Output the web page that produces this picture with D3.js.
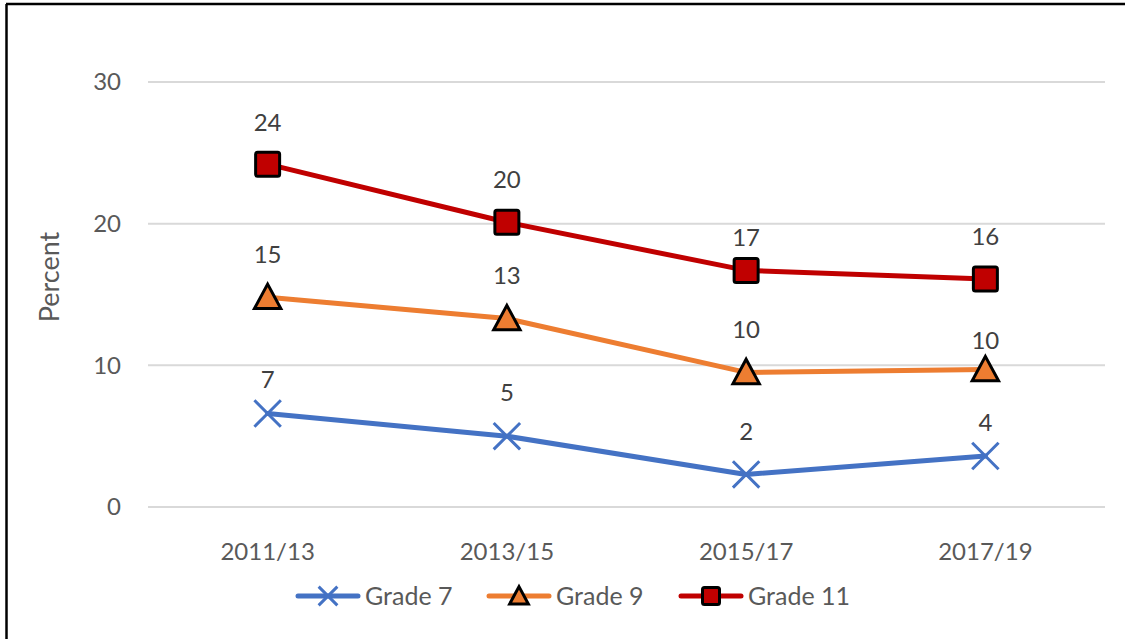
<!DOCTYPE html>
<html>
<head>
<meta charset="utf-8">
<script src="https://cdn.jsdelivr.net/npm/d3@7"></script>
<style>
  html, body { margin: 0; padding: 0; background: #fff; }
  svg { display: block; font-family: Lato, "Open Sans", sans-serif; }
</style>
</head>
<body>
<svg id="chart" width="1125" height="639"></svg>
<script>
(function () {
  "use strict";

  const periods = ["2011/13", "2013/15", "2015/17", "2017/19"];
  const grade7 = [6.6, 5.0, 2.3, 3.6];
  const grade9 = [14.8, 13.3, 9.5, 9.7];
  const grade11 = [24.2, 20.1, 16.7, 16.1];
  const yTicks = [0, 10, 20, 30];

  // how far above its marker each data label sits (px, label centre)
  const labelLift7 = [34, 44, 43, 33];
  const labelLift9 = [43, 43, 43, 29];
  const labelLift11 = [42, 43, 33, 42];

  const series = [
    { name: "Grade 7", values: grade7, lift: labelLift7, color: "#4472C4", marker: "x" },
    { name: "Grade 9", values: grade9, lift: labelLift9, color: "#ED7D31", marker: "triangle" },
    { name: "Grade 11", values: grade11, lift: labelLift11, color: "#C00000", marker: "square" },
  ];

  const svg = d3.select("#chart");

  // outer frame -- only top and left edges show in the reference
  svg.append("line").attr("x1", 6).attr("x2", 1125).attr("y1", 4).attr("y2", 4)
    .attr("stroke", "#000").attr("stroke-width", 2.5);
  svg.append("line").attr("x1", 6.5).attr("x2", 6.5).attr("y1", 4).attr("y2", 639)
    .attr("stroke", "#000").attr("stroke-width", 2.5);

  const plot = { left: 148, right: 1105, top: 82, bottom: 507 };

  const x = d3.scalePoint().domain(periods).range([plot.left, plot.right]).padding(0.5);
  const y = d3.scaleLinear().domain([0, 30]).range([plot.bottom, plot.top]);

  svg.append("g")
    .selectAll("line")
    .data(yTicks)
    .join("line")
    .attr("x1", plot.left)
    .attr("x2", plot.right)
    .attr("y1", (d) => y(d))
    .attr("y2", (d) => y(d))
    .attr("stroke", "#d9d9d9")
    .attr("stroke-width", 2);

  svg.append("g")
    .selectAll("text")
    .data(yTicks)
    .join("text")
    .attr("x", 121)
    .attr("y", (d) => y(d))
    .attr("dy", "0.35em")
    .attr("text-anchor", "end")
    .attr("font-size", 24)
    .attr("fill", "#595959")
    .text((d) => d);

  svg.append("g")
    .selectAll("text")
    .data(periods)
    .join("text")
    .attr("x", (d) => x(d))
    .attr("y", 552)
    .attr("dy", "0.35em")
    .attr("text-anchor", "middle")
    .attr("font-size", 24)
    .attr("fill", "#595959")
    .text((d) => d);

  svg.append("text")
    .attr("transform", "translate(50,277) rotate(-90)")
    .attr("dy", "0.35em")
    .attr("text-anchor", "middle")
    .attr("font-size", 27)
    .attr("fill", "#595959")
    .text("Percent");

  function drawMarker(g, s, size) {
    if (s.marker === "x") {
      const h = size * 0.55;
      g.append("path")
        .attr("d", `M${-h},${-h}L${h},${h}M${-h},${h}L${h},${-h}`)
        .attr("stroke", s.color).attr("stroke-width", 3).attr("fill", "none");
    } else if (s.marker === "triangle") {
      const h = size * 0.55;
      g.append("path")
        .attr("d", `M0,${-h}L${h},${h * 0.85}L${-h},${h * 0.85}Z`)
        .attr("fill", s.color).attr("stroke", "#000").attr("stroke-width", 3);
    } else {
      const h = size * 0.5;
      g.append("rect")
        .attr("x", -h).attr("y", -h).attr("width", 2 * h).attr("height", 2 * h)
        .attr("rx", 2)
        .attr("fill", s.color).attr("stroke", "#000").attr("stroke-width", 3);
    }
  }

  const line = d3.line()
    .x((d, i) => x(periods[i]))
    .y((d) => y(d));

  series.forEach((s) => {
    const g = svg.append("g");
    g.append("path")
      .datum(s.values)
      .attr("d", line)
      .attr("fill", "none")
      .attr("stroke", s.color)
      .attr("stroke-width", 5)
      .attr("stroke-linejoin", "round")
      .attr("stroke-linecap", "round");

    s.values.forEach((v, i) => {
      const m = g.append("g").attr("transform", `translate(${x(periods[i])},${y(v)})`);
      drawMarker(m, s, 24);
      g.append("text")
        .attr("x", x(periods[i]))
        .attr("y", y(v) - s.lift[i])
        .attr("dy", "0.35em")
        .attr("text-anchor", "middle")
        .attr("font-size", 24)
        .attr("fill", "#404040")
        .text(Math.round(v));
    });
  });

  // legend
  const legendX = [298, 489, 681];
  series.forEach((s, i) => {
    const lx = legendX[i];
    const ly = 596;
    const lg = svg.append("g");
    lg.append("line")
      .attr("x1", lx).attr("x2", lx + 60)
      .attr("y1", ly).attr("y2", ly)
      .attr("stroke", s.color).attr("stroke-width", 5).attr("stroke-linecap", "round");
    const m = lg.append("g").attr("transform", `translate(${lx + 30},${ly})`);
    drawMarker(m, s, 17);
    lg.append("text")
      .attr("x", lx + 67)
      .attr("y", ly)
      .attr("dy", "0.35em")
      .attr("font-size", 25)
      .attr("fill", "#595959")
      .text(s.name);
  });
})();
</script>
</body>
</html>
